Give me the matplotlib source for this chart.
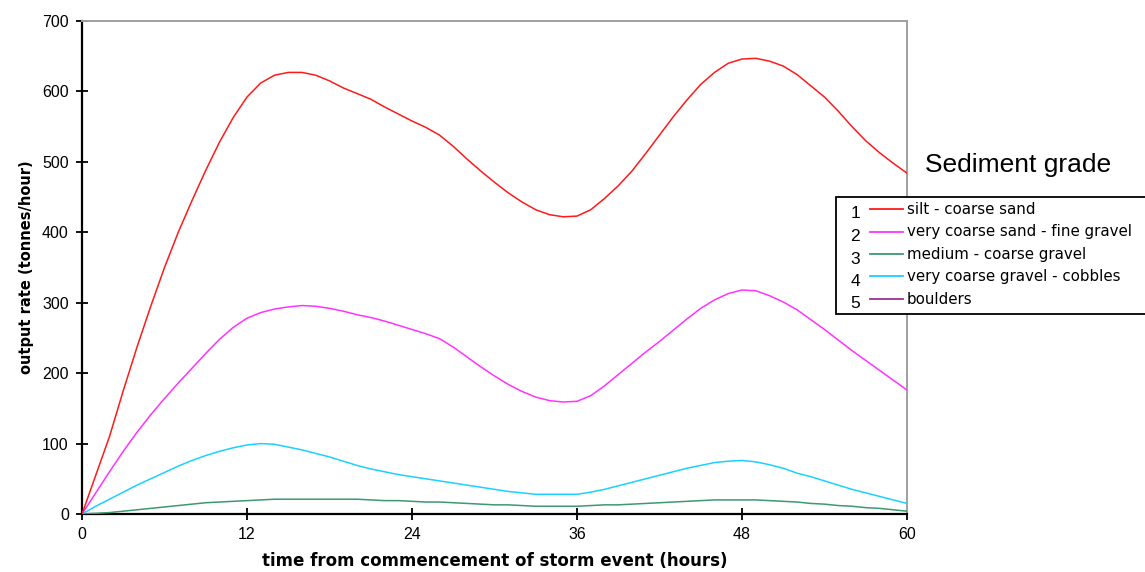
import matplotlib.pyplot as plt
from matplotlib.lines import Line2D
from matplotlib.patches import Rectangle

hours = list(range(0, 61))

silt = [0, 55, 110, 175, 237, 295, 350, 400, 445, 488, 528, 563, 592, 612, 623, 627,
        627, 623, 615, 605, 597, 589, 578, 568, 558, 549, 538, 522, 504, 487, 471,
        456, 443, 432, 425, 422, 423, 432, 448, 466, 487, 512, 538, 564, 588, 610,
        627, 640, 646, 647, 643, 636, 624, 608, 592, 572, 550, 530, 513, 498, 484]
sand_gravel = [0, 30, 60, 89, 116, 141, 164, 186, 207, 228, 248, 265, 278, 286, 291, 294,
               296, 295, 292, 288, 283, 279, 274, 268, 262, 256, 249, 237, 223, 209, 196,
               184, 174, 166, 161, 159, 160, 168, 182, 198, 214, 230, 245, 261, 277, 292,
               304, 313, 318, 317, 310, 301, 290, 276, 262, 247, 232, 218, 204, 190, 176]
medium_gravel = [0, 1, 2, 4, 6, 8, 10, 12, 14, 16, 17, 18, 19, 20, 21, 21,
                 21, 21, 21, 21, 21, 20, 19, 19, 18, 17, 17, 16, 15, 14, 13,
                 13, 12, 11, 11, 11, 11, 12, 13, 13, 14, 15, 16, 17, 18, 19,
                 20, 20, 20, 20, 19, 18, 17, 15, 14, 12, 11, 9, 8, 6, 4]
cobbles = [0, 11, 21, 31, 41, 50, 59, 68, 76, 83, 89, 94, 98, 100, 99, 95,
           91, 86, 81, 75, 69, 64, 60, 56, 53, 50, 47, 44, 41, 38, 35,
           32, 30, 28, 28, 28, 28, 31, 35, 40, 45, 50, 55, 60, 65, 69,
           73, 75, 76, 74, 70, 65, 58, 53, 47, 41, 35, 30, 25, 20, 15]
boulders = [0] * 61

series = [silt, sand_gravel, medium_gravel, cobbles, boulders]
names = ["silt - coarse sand", "very coarse sand - fine gravel", "medium - coarse gravel",
         "very coarse gravel - cobbles", "boulders"]
colours = ["#ff1a1a", "#ff33ff", "#3d9970", "#1ad1ff", "#993399"]

fig = plt.figure(figsize=(11.45, 5.72), dpi=100)
ax = fig.add_axes([82 / 1145, 58 / 572, 825 / 1145, 493 / 572])

order = [4, 2, 3, 1, 0]
for i in order:
    ax.plot(hours, series[i], color=colours[i], lw=1.1, zorder=1 if i == 4 else 3)

ax.set_xlim(0, 60)
ax.set_ylim(0, 700)
ax.set_xticks([0, 12, 24, 36, 48, 60])
ax.set_yticks(range(0, 701, 100))
ax.tick_params(direction="inout", length=9, width=1.3, labelsize=11.5, pad=5)
for s in ["left", "bottom"]:
    ax.spines[s].set_linewidth(1.6)
    ax.spines[s].set_color("black")
for s in ["top", "right"]:
    ax.spines[s].set_linewidth(1.4)
    ax.spines[s].set_color("#a0a0a0")
for lbl in ax.get_xticklabels() + ax.get_yticklabels():
    lbl.set_family("Liberation Sans")

ax.set_xlabel("time from commencement of storm event (hours)", fontweight="bold",
              fontsize=12, labelpad=7)
ax.set_ylabel("output rate (tonnes/hour)", fontweight="bold", fontsize=10.5, labelpad=6)

fig.text(925 / 1145, 1 - 165 / 572, "Sediment grade", fontsize=19, family="Liberation Sans",
         va="center", ha="left")

# legend box drawn by hand so the numbers sit beside the handles
fig.add_artist(Rectangle((836 / 1145, 1 - 314 / 572), 320 / 1145, 117 / 572,
                         transform=fig.transFigure, fill=True, facecolor="white",
                         edgecolor="black", lw=1.3, zorder=5))
for k in range(5):
    yrow = 1 - (209 + k * 22.5) / 572
    fig.text(855 / 1145, yrow - 5 / 572, str(k + 1), fontsize=12.5, family="Liberation Sans",
             ha="center", va="center", zorder=6)
    fig.add_artist(Line2D([870 / 1145, 903 / 1145], [yrow, yrow], transform=fig.transFigure,
                          color=colours[k], lw=1.3, zorder=6))
    fig.text(907 / 1145, yrow, names[k], fontsize=10.8, ha="left", va="center", zorder=6)

fig.savefig("out.png", dpi=100)
